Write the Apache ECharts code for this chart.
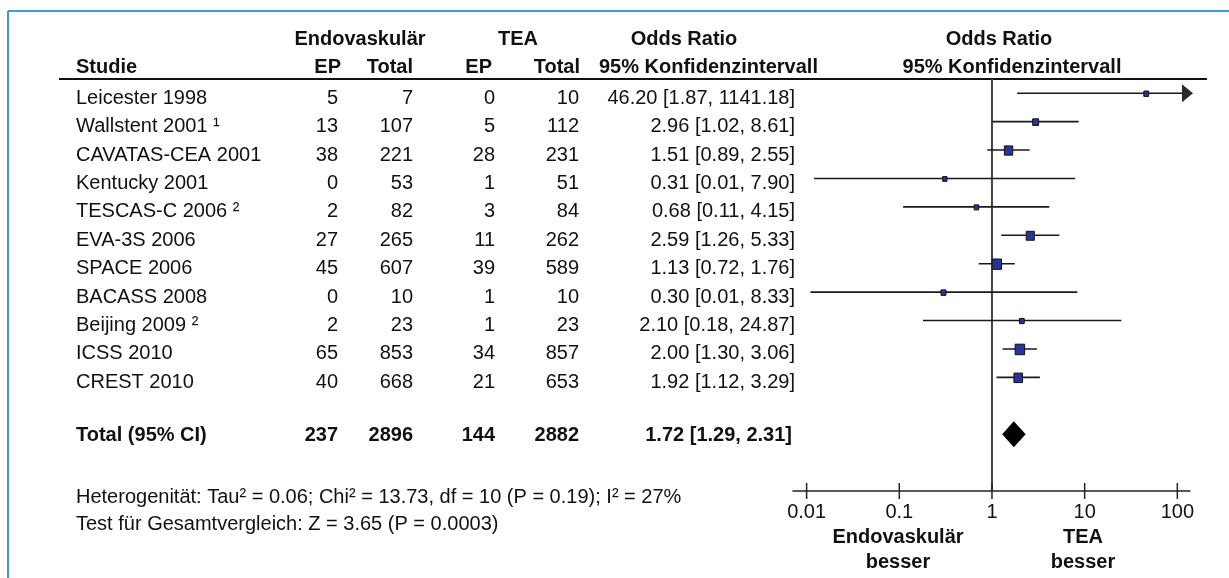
<!DOCTYPE html>
<html><head><meta charset="utf-8">
<script src="https://cdn.jsdelivr.net/npm/echarts@6/dist/echarts.min.js"></script>
<style>html,body{margin:0;padding:0;background:#fff}#c{width:1229px;height:578px}</style>
</head><body><div id="c"></div>
<script>
// ---------------- data ----------------
const studies = ["Leicester 1998", "Wallstent 2001", "CAVATAS-CEA 2001", "Kentucky 2001", "TESCAS-C 2006",
  "EVA-3S 2006", "SPACE 2006", "BACASS 2008", "Beijing 2009", "ICSS 2010", "CREST 2010"];
const footnoteMarks = ["", "¹", "", "", "²", "", "", "", "²", "", ""];
const endoEP    = [5, 13, 38, 0, 2, 27, 45, 0, 2, 65, 40];
const endoTotal = [7, 107, 221, 53, 82, 265, 607, 10, 23, 853, 668];
const teaEP     = [0, 5, 28, 1, 3, 11, 39, 1, 1, 34, 21];
const teaTotal  = [10, 112, 231, 51, 84, 262, 589, 10, 23, 857, 653];
const oddsRatio = [46.20, 2.96, 1.51, 0.31, 0.68, 2.59, 1.13, 0.30, 2.10, 2.00, 1.92];
const ciLow     = [1.87, 1.02, 0.89, 0.012, 0.11, 1.26, 0.72, 0.011, 0.18, 1.30, 1.12];
const ciHigh    = [1141.18, 8.61, 2.55, 7.90, 4.15, 5.33, 1.76, 8.33, 24.87, 3.06, 3.29];
const weights   = [4.4, 6.7, 13.1, 3.5, 3.9, 12.4, 16.4, 4.6, 4.2, 17.0, 13.8]; // estimated study weights (%)
const totalLabel = "Total (95% CI)";
const totalCounts = [237, 2896, 144, 2882];
const totalOR = [1.72, 1.29, 2.31];
const axisTicks = [0.01, 0.1, 1, 10, 100];
const axisTickLabels = ["0.01", "0.1", "1", "10", "100"];
const heteroText = "Heterogenität: Tau² = 0.06; Chi² = 13.73, df = 10 (P = 0.19); I² = 27%";
const testText = "Test für Gesamtvergleich: Z = 3.65 (P = 0.0003)";

// ---------------- layout / style ----------------
const FONT = "'Liberation Sans', Arial, sans-serif";
const FS = 20;
const TXT = '#111';
const COL = { study: 76, endoEP: 338, endoTotal: 413, teaEP: 495, teaTotal: 579, or: 795 };
const ROW_DY = 5;
const TOTAL_ROW = 12;
const X_MIN = 0.00713, X_MAX = 137;

function fmt(v) { return v.toFixed(2); }
function ciText(o, l, h) { return fmt(o) + ' [' + fmt(l) + ', ' + fmt(h) + ']'; }

const rowIdx = studies.map((s, i) => i);

function txt(text, x, y, align, bold, size) {
  return { type: 'text', style: { text: text, x: x, y: y, align: align, verticalAlign: 'middle',
    font: (bold ? 'bold ' : '') + (size || FS) + 'px ' + FONT, fill: TXT } };
}

const chart = echarts.init(document.getElementById('c'), null, { renderer: 'canvas' });

const option = {
  animation: false,
  backgroundColor: '#fff',
  grid: { left: 793, right: 39, top: 79, bottom: 87, containLabel: false },
  xAxis: {
    type: 'log', logBase: 10, min: X_MIN, max: X_MAX, position: 'bottom',
    axisLine: { show: true, onZero: false, lineStyle: { color: '#222', width: 1.5 } },
    axisTick: { show: false },
    splitLine: { show: false },
    axisLabel: {
      show: true, customValues: axisTicks, margin: 11,
      fontFamily: FONT, fontSize: FS, color: TXT,
      formatter: function (v) {
        for (let i = 0; i < axisTicks.length; i++) {
          if (Math.abs(Math.log10(v) - Math.log10(axisTicks[i])) < 1e-6) return axisTickLabels[i];
        }
        return '';
      }
    }
  },
  yAxis: { type: 'value', inverse: true, min: -0.5, max: 14, show: false },
  series: [
    // vertical reference line at OR = 1
    {
      type: 'custom', data: [[1]], silent: true, z: 2,
      renderItem: function (params, api) {
        const p0 = api.coord([api.value(0), -0.5]);
        const p1 = api.coord([api.value(0), 14]);
        return { type: 'line', shape: { x1: p0[0], y1: p0[1], x2: p1[0], y2: p1[1] },
          style: { stroke: '#444', lineWidth: 2 } };
      }
    },
    // axis ticks crossing the axis line
    {
      type: 'custom', data: axisTicks.map(t => [t]), silent: true, z: 3,
      renderItem: function (params, api) {
        const p = api.coord([api.value(0), 14]);
        return { type: 'line', shape: { x1: p[0], y1: p[1] - 8, x2: p[0], y2: p[1] + 8 },
          style: { stroke: '#222', lineWidth: 1.5 } };
      }
    },
    // confidence intervals
    {
      type: 'custom', data: rowIdx.map(i => [ciLow[i], ciHigh[i], i]), silent: true, z: 4,
      renderItem: function (params, api) {
        const lo = Math.max(api.value(0), X_MIN), hiRaw = api.value(1), hi = Math.min(hiRaw, X_MAX);
        const row = api.value(2);
        const a = api.coord([lo, row]), b = api.coord([hi, row]);
        const children = [{ type: 'line', shape: { x1: a[0], y1: a[1], x2: b[0], y2: b[1] },
          style: { stroke: '#1a1a1a', lineWidth: 1.6 } }];
        if (hiRaw > X_MAX) {
          children.push({ type: 'polygon', shape: { points: [[b[0] - 8, b[1] - 9], [b[0] + 3, b[1]], [b[0] - 8, b[1] + 9]] },
            style: { fill: '#2a2a2a' } });
        }
        return { type: 'group', children: children };
      }
    },
    // study squares
    {
      type: 'custom', data: rowIdx.map(i => [oddsRatio[i], i, weights[i]]), silent: true, z: 5,
      renderItem: function (params, api) {
        const p = api.coord([api.value(0), api.value(1)]);
        const w = 2.3 * Math.sqrt(api.value(2)), h = 2.55 * Math.sqrt(api.value(2));
        return { type: 'rect', shape: { x: p[0] - w / 2, y: p[1] - h / 2 + 0.5, width: w, height: h },
          style: { fill: '#27359a', stroke: '#111', lineWidth: 1 } };
      }
    },
    // pooled diamond
    {
      type: 'custom', data: [[totalOR[0], totalOR[1], totalOR[2], TOTAL_ROW]], silent: true, z: 5,
      renderItem: function (params, api) {
        const row = api.value(3);
        const c = api.coord([api.value(0), row]);
        const l = api.coord([api.value(1), row]);
        const r = api.coord([api.value(2), row]);
        return { type: 'polygon', shape: { points: [[l[0], c[1]], [c[0], c[1] - 13], [r[0], c[1]], [c[0], c[1] + 13]] },
          style: { fill: '#000' } };
      }
    },
    // table rows
    {
      type: 'custom', data: rowIdx.map(i => [1, i]), silent: true, z: 6,
      renderItem: function (params, api) {
        const i = params.dataIndex;
        const y = api.coord([1, api.value(1)])[1] + ROW_DY;
        return { type: 'group', children: [
          txt(studies[i] + (footnoteMarks[i] ? ' ' + footnoteMarks[i] : ''), COL.study, y, 'left'),
          txt(String(endoEP[i]), COL.endoEP, y, 'right'),
          txt(String(endoTotal[i]), COL.endoTotal, y, 'right'),
          txt(String(teaEP[i]), COL.teaEP, y, 'right'),
          txt(String(teaTotal[i]), COL.teaTotal, y, 'right'),
          txt(ciText(oddsRatio[i], ciLow[i], ciHigh[i]), COL.or, y, 'right')
        ] };
      }
    },
    // total row text
    {
      type: 'custom', data: [[1, TOTAL_ROW]], silent: true, z: 6,
      renderItem: function (params, api) {
        const y = api.coord([1, api.value(1)])[1] + 1;
        return { type: 'group', children: [
          txt(totalLabel, COL.study, y, 'left', true),
          txt(String(totalCounts[0]), COL.endoEP, y, 'right', true),
          txt(String(totalCounts[1]), COL.endoTotal, y, 'right', true),
          txt(String(totalCounts[2]), COL.teaEP, y, 'right', true),
          txt(String(totalCounts[3]), COL.teaTotal, y, 'right', true),
          txt(ciText(totalOR[0], totalOR[1], totalOR[2]), COL.or - 3, y, 'right', true)
        ] };
      }
    }
  ],
  graphic: [
    // frame
    { type: 'line', shape: { x1: 8, y1: 11, x2: 1229, y2: 11 }, style: { stroke: '#3d9ad8', lineWidth: 2 }, silent: true },
    { type: 'line', shape: { x1: 8, y1: 11, x2: 8, y2: 578 }, style: { stroke: '#3d9ad8', lineWidth: 2 }, silent: true },
    // header rule
    { type: 'line', shape: { x1: 59, y1: 79, x2: 1207, y2: 79 }, style: { stroke: '#111', lineWidth: 2 }, silent: true },
    // headers
    { type: 'text', x: 360, y: 39, style: { text: 'Endovaskulär', align: 'center', verticalAlign: 'middle', font: 'bold 20px ' + FONT, fill: TXT } },
    { type: 'text', x: 518, y: 39, style: { text: 'TEA', align: 'center', verticalAlign: 'middle', font: 'bold 20px ' + FONT, fill: TXT } },
    { type: 'text', x: 684, y: 39, style: { text: 'Odds Ratio', align: 'center', verticalAlign: 'middle', font: 'bold 20px ' + FONT, fill: TXT } },
    { type: 'text', x: 999, y: 39, style: { text: 'Odds Ratio', align: 'center', verticalAlign: 'middle', font: 'bold 20px ' + FONT, fill: TXT } },
    { type: 'text', x: 76, y: 67, style: { text: 'Studie', align: 'left', verticalAlign: 'middle', font: 'bold 20px ' + FONT, fill: TXT } },
    { type: 'text', x: 341, y: 67, style: { text: 'EP', align: 'right', verticalAlign: 'middle', font: 'bold 20px ' + FONT, fill: TXT } },
    { type: 'text', x: 413, y: 67, style: { text: 'Total', align: 'right', verticalAlign: 'middle', font: 'bold 20px ' + FONT, fill: TXT } },
    { type: 'text', x: 492, y: 67, style: { text: 'EP', align: 'right', verticalAlign: 'middle', font: 'bold 20px ' + FONT, fill: TXT } },
    { type: 'text', x: 580, y: 67, style: { text: 'Total', align: 'right', verticalAlign: 'middle', font: 'bold 20px ' + FONT, fill: TXT } },
    { type: 'text', x: 599, y: 67, style: { text: '95% Konfidenzintervall', align: 'left', verticalAlign: 'middle', font: 'bold 20px ' + FONT, fill: TXT } },
    { type: 'text', x: 1012, y: 67, style: { text: '95% Konfidenzintervall', align: 'center', verticalAlign: 'middle', font: 'bold 20px ' + FONT, fill: TXT } },
    // footer statistics
    { type: 'text', x: 76, y: 497, style: { text: heteroText, align: 'left', verticalAlign: 'middle', font: '20px ' + FONT, fill: TXT } },
    { type: 'text', x: 76, y: 524, style: { text: testText, align: 'left', verticalAlign: 'middle', font: '20px ' + FONT, fill: TXT } },
    // favours labels
    { type: 'text', x: 898, y: 537, style: { text: 'Endovaskulär', align: 'center', verticalAlign: 'middle', font: 'bold 20px ' + FONT, fill: TXT } },
    { type: 'text', x: 898, y: 562, style: { text: 'besser', align: 'center', verticalAlign: 'middle', font: 'bold 20px ' + FONT, fill: TXT } },
    { type: 'text', x: 1083, y: 537, style: { text: 'TEA', align: 'center', verticalAlign: 'middle', font: 'bold 20px ' + FONT, fill: TXT } },
    { type: 'text', x: 1083, y: 562, style: { text: 'besser', align: 'center', verticalAlign: 'middle', font: 'bold 20px ' + FONT, fill: TXT } }
  ]
};
chart.setOption(option);
</script>
</body></html>
